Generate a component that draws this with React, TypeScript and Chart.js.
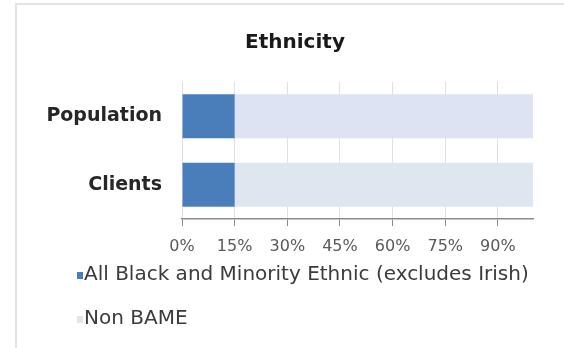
import React, { useEffect, useRef } from 'react';
import { Chart, registerables } from 'chart.js';

Chart.register(...registerables);

const chartTitle = 'Ethnicity';
const categories = ['Population', 'Clients'];
const seriesNames = ['All Black and Minority Ethnic (excludes Irish)', 'Non BAME'];
const bameValues = [15, 15];
const nonBameValues = [85, 85];
const xTickValues = [0, 15, 30, 45, 60, 75, 90];

const FONT = '"DejaVu Sans", sans-serif';

// Draws small square legend markers close to the legend text and nudges
// the legend/title boxes after layout.
const legendTweaks = {
  id: 'legendTweaks',
  afterLayout(chart: any) {
    const lg = chart.legend;
    const xs = chart.scales.x;
    if (lg && xs) {
      const h = lg.height;
      const w = lg.width;
      lg.left = lg.left + 5;
      lg.right = lg.left + w;
      lg.top = xs.top + 22;
      lg.bottom = lg.top + h;
    }
    const tb = chart.titleBlock;
    if (tb) {
      tb.left += 6;
      tb.right += 6;
    }
  },
  afterDraw(chart: any) {
    const legend = chart.legend;
    if (!legend || !legend.legendHitBoxes) return;
    const ctx = chart.ctx;
    ctx.save();
    legend.legendHitBoxes.forEach((hb: any, i: number) => {
      const item = legend.legendItems[i];
      const ds = chart.data.datasets[item.datasetIndex];
      ctx.fillStyle = ds.legendColor;
      ctx.fillRect(hb.left + 3, hb.top + 7, 6, 7);
    });
    ctx.restore();
  },
};

export default function App() {
  const ref = useRef<HTMLCanvasElement>(null);

  useEffect(() => {
    if (!ref.current) return;
    Chart.defaults.font.family = FONT;
    const chart = new Chart(ref.current, {
      type: 'bar',
      data: {
        labels: categories,
        datasets: [
          {
            label: seriesNames[0],
            data: bameValues,
            backgroundColor: '#4a7ebb',
            borderWidth: 0,
            barPercentage: 0.64,
            categoryPercentage: 1,
            legendColor: '#4a7ebb',
          } as any,
          {
            label: seriesNames[1],
            data: nonBameValues,
            backgroundColor: ['#dde3f3', '#dee6f0'],
            borderWidth: 0,
            barPercentage: 0.64,
            categoryPercentage: 1,
            legendColor: '#e2e5ec',
          } as any,
        ],
      },
      plugins: [legendTweaks],
      options: {
        indexAxis: 'y',
        animation: false,
        responsive: false,
        maintainAspectRatio: false,
        layout: { padding: { left: 45, right: 31, top: 0, bottom: -6 } },
        plugins: {
          title: {
            display: true,
            text: chartTitle,
            color: '#1a1a1a',
            font: { family: FONT, size: 20, weight: 'bold' },
            padding: { top: 31, bottom: 27 },
          },
          legend: {
            display: true,
            position: 'bottom',
            align: 'start',
            labels: {
              boxWidth: 0,
              boxHeight: 0,
              padding: 24,
              color: '#3b3b3b',
              font: { family: FONT, size: 20 },
            },
          },
          tooltip: { enabled: false },
        },
        scales: {
          x: {
            stacked: true,
            min: 0,
            max: 100,
            afterBuildTicks: (scale: any) => {
              scale.ticks = xTickValues.map((v) => ({ value: v }));
            },
            afterFit: (scale: any) => {
              scale.height = 37;
            },
            grid: {
              color: '#e0e0e0',
              tickColor: '#8c8c8c',
              tickLength: 7,
              lineWidth: 1,
            },
            border: { display: true, color: '#8c8c8c', width: 1.5 },
            ticks: {
              autoSkip: false,
              maxRotation: 0,
              padding: 11,
              color: '#595959',
              font: { family: FONT, size: 16 },
              callback: (v: any) => v + '%',
            },
          },
          y: {
            stacked: true,
            afterFit: (scale: any) => {
              scale.width = 137;
            },
            grid: { display: false, drawTicks: false },
            border: { display: false },
            ticks: {
              padding: 20,
              color: '#262626',
              font: { family: FONT, size: 19, weight: 'bold' },
            },
          },
        },
      } as any,
    });
    return () => chart.destroy();
  }, []);

  return (
    <div style={{ position: 'fixed', left: 0, top: 0, width: 564, height: 348, background: '#fff' }}>
      <div
        style={{
          position: 'absolute',
          left: 15,
          top: 3,
          width: 560,
          height: 360,
          borderLeft: '2px solid #e3e3e3',
          borderTop: '2px solid #e3e3e3',
          boxSizing: 'border-box',
        }}
      />
      <canvas ref={ref} width={564} height={348} style={{ position: 'absolute', left: 0, top: 0 }} />
    </div>
  );
}
